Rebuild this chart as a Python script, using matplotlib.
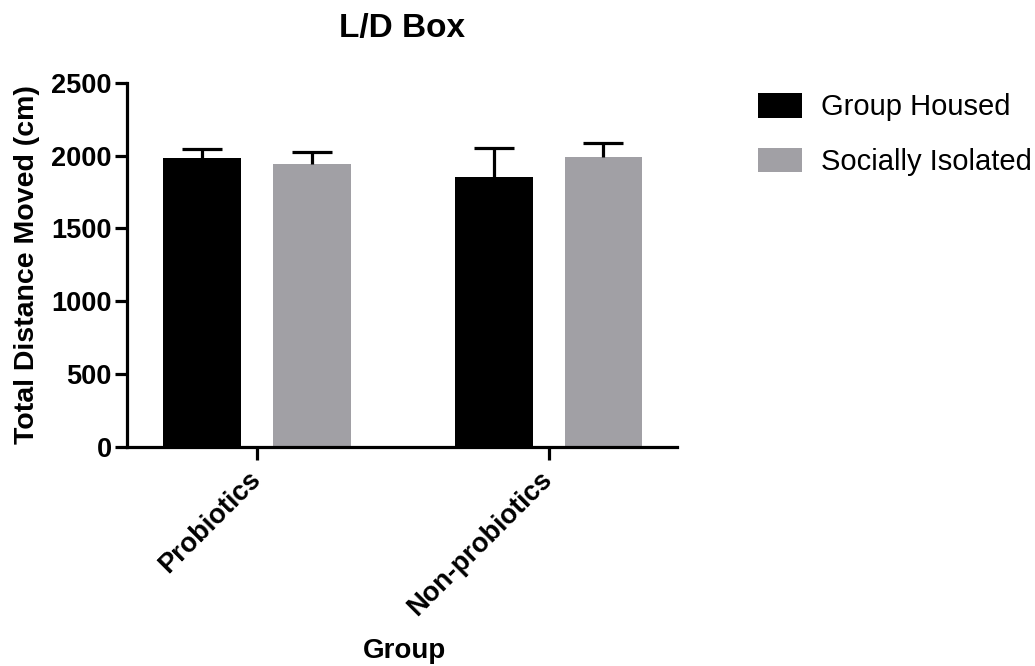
import matplotlib
matplotlib.use("Agg")
import matplotlib.pyplot as plt
import numpy as np

plt.rcParams['font.family'] = ['Liberation Sans', 'DejaVu Sans']

categories = ["Probiotics", "Non-probiotics"]
series_names = ["Group Housed", "Socially Isolated"]
group_housed = [1985, 1855]
group_housed_err = [57, 195]
socially_isolated = [1940, 1988]
socially_isolated_err = [82, 98]
yticks = [0, 500, 1000, 1500, 2000, 2500]

colors = ["#000000", "#a1a0a5"]

fig = plt.figure(figsize=(10.35, 6.66), dpi=100)
ax = fig.add_axes([127/1035, 1-446.7/666, 550/1035, 364/666])

x = np.arange(len(categories))
w = 0.267
off = 0.188
lw = 2.3
for i, (vals, errs) in enumerate([(group_housed, group_housed_err), (socially_isolated, socially_isolated_err)]):
    pos = x + (-off if i == 0 else off)
    ax.bar(pos, vals, width=w, color=colors[i], label=series_names[i], zorder=2)
    eb = ax.errorbar(pos, vals, yerr=[np.zeros(len(vals)), errs], fmt='none', ecolor='black',
                     elinewidth=lw, capsize=14.4, capthick=lw, zorder=3)
    caps = eb[1]
    if len(caps) == 2:
        caps[0].set_visible(False)

ax.set_xlim(-0.445, 1.44)
ax.set_ylim(0, 2500)
ax.set_yticks(yticks)
ax.set_yticklabels([str(t) for t in yticks], fontsize=19.5, fontweight='bold')
ax.set_xticks(x)
ax.set_xticklabels(categories, fontsize=19.5, fontweight='bold', rotation=45,
                   ha='right', va='center', rotation_mode='anchor')
ax.tick_params(axis='both', width=lw, length=9, color='black')
ax.tick_params(axis='x', pad=12)
ax.tick_params(axis='y', pad=2)

for s in ['top', 'right']:
    ax.spines[s].set_visible(False)
for s in ['left', 'bottom']:
    ax.spines[s].set_linewidth(lw)

ax.set_ylabel("Total Distance Moved (cm)", fontsize=20.5, fontweight='bold', labelpad=8)
ax.set_xlabel("Group", fontsize=20, fontweight='bold')
ax.xaxis.set_label_coords(0.5045, -0.5255)
ax.set_title("L/D Box", fontsize=24, fontweight='bold', pad=33)

leg = ax.legend(loc='upper left', bbox_to_anchor=(758/1035, 1-93/666), bbox_transform=fig.transFigure,
                frameon=False, fontsize=21, handlelength=1.5, handleheight=0.92,
                handletextpad=0.65, labelspacing=0.9, borderpad=0, borderaxespad=0)

fig.savefig("out.png", dpi=100)
